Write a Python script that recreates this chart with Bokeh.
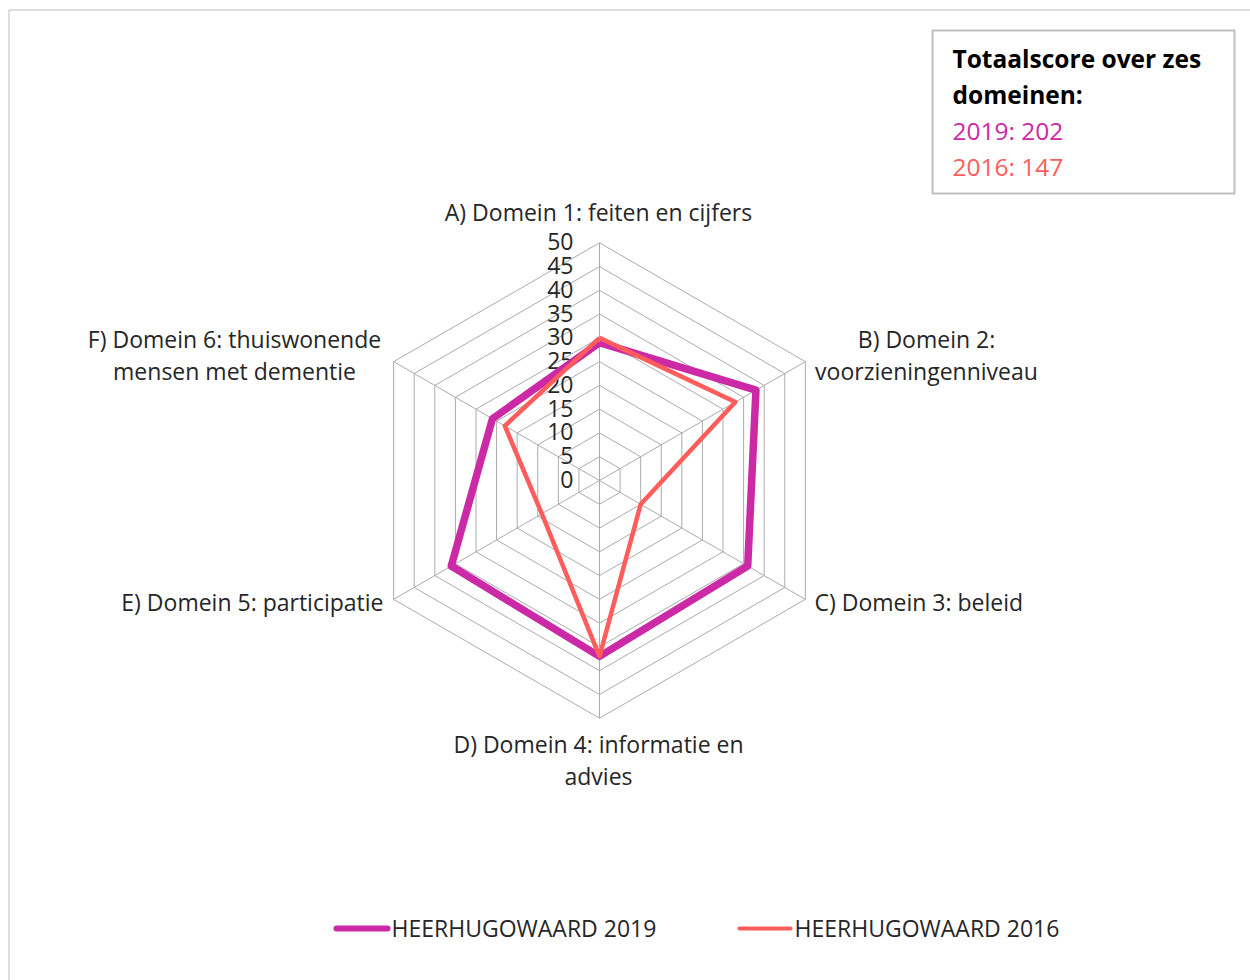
import numpy as np
from bokeh.plotting import figure
from bokeh.models import Range1d
from bokeh.core.properties import value
from bokeh.embed import file_html
from bokeh.resources import INLINE

# ---- data ----
categories = ["A) Domein 1: feiten en cijfers",
              "B) Domein 2:\nvoorzieningenniveau",
              "C) Domein 3: beleid",
              "D) Domein 4: informatie en\nadvies",
              "E) Domein 5: participatie",
              "F) Domein 6: thuiswonende\nmensen met dementie"]
series_names = ["HEERHUGOWAARD 2019", "HEERHUGOWAARD 2016"]
values_2019 = [29, 38, 36, 37, 36, 26]
values_2016 = [30, 33, 10, 37, 14, 23]
tick_values = [0, 5, 10, 15, 20, 25, 30, 35, 40, 45, 50]
box_title = ["Totaalscore over zes", "domeinen:"]
box_lines = ["2019: 202", "2016: 147"]

C19 = "#CC29A6"
C16 = "#FF5D5B"
GRID = "#ABABAB"
FONT = value("Open Sans")
FS = "23px"

W, H = 1250, 980
p = figure(width=W, height=H, output_backend="svg", toolbar_location=None,
           x_range=Range1d(0, W), y_range=Range1d(0, H), min_border=0,
           outline_line_color=None)
p.axis.visible = False
p.grid.visible = False

def P(px, py):
    return px, H - py

cx, cy = P(599, 480)
R = 237.7
vmax = 50.0
angles = np.deg2rad([90, 30, -30, -90, 210, 150])

def pt(v, i):
    r = R * v / vmax
    return cx + r * np.cos(angles[i]), cy + r * np.sin(angles[i])

# chart-area border (top and left visible)
bx0, by0 = P(8.5, 9.5)
p.segment(x0=[bx0, bx0], y0=[by0, by0], x1=[bx0, W], y1=[0, by0],
          line_color="#BDBDBD", line_width=1)

# grid hexagons
for t in tick_values[1:]:
    xs = [pt(t, i)[0] for i in range(6)] + [pt(t, 0)[0]]
    ys = [pt(t, i)[1] for i in range(6)] + [pt(t, 0)[1]]
    p.line(xs, ys, line_color=GRID, line_width=1)
# spokes
p.segment(x0=[cx] * 6, y0=[cy] * 6,
          x1=[pt(vmax, i)[0] for i in range(6)],
          y1=[pt(vmax, i)[1] for i in range(6)],
          line_color=GRID, line_width=1)

# tick labels
tx = P(573, 0)[0]
p.text(x=[tx] * len(tick_values), y=[cy + R * t / vmax + 1 for t in tick_values],
       text=[str(t) for t in tick_values], text_font=FONT, text_font_size=FS,
       text_align="right", text_baseline="middle", text_color="#262626")

# series
for vals, col, lw in [(values_2019, C19, 7.5), (values_2016, C16, 4.5)]:
    xs = [pt(v, i)[0] for i, v in enumerate(vals)]
    ys = [pt(v, i)[1] for i, v in enumerate(vals)]
    xs.append(xs[0]); ys.append(ys[0])
    p.line(xs, ys, line_color=col, line_width=lw, line_join="round")

# category labels (first line position; extra lines 32px below)
lab_pos = [(598, 211, "center"), (926, 338, "center"), (814, 601, "left"),
           (598, 743, "center"), (383, 601, "right"), (234, 338, "center")]
for txt, (lx, ly, al) in zip(categories, lab_pos):
    for k, line in enumerate(txt.split("\n")):
        x, y = P(lx, ly + 32.5 * k)
        p.text(x=[x], y=[y], text=[line], text_font=FONT, text_font_size=FS,
               text_align=al, text_baseline="middle", text_color="#262626")

# legend
for name, col, lw, (x0, x1, tx0) in [(series_names[0], C19, 6, (336, 387, 391)),
                                    (series_names[1], C16, 4, (739, 790, 794))]:
    a, b = P(x0, 928)
    c, _ = P(x1, 928)
    p.line([a, c], [b, b], line_color=col, line_width=lw, line_cap="round")
    tx1, ty1 = P(tx0, 927)
    p.text(x=[tx1], y=[ty1], text=[name], text_font=FONT, text_font_size=FS,
           text_align="left", text_baseline="middle", text_color="#262626")

# text box
x0, y0 = P(932, 30)
x1, y1 = P(1234, 193)
p.quad(left=[x0], right=[x1], top=[y0], bottom=[y1], fill_color="white",
       line_color="#BFBFBF", line_width=2)
for k, t in enumerate(box_title):
    x, y = P(952, 58 + 36 * k)
    p.text(x=[x], y=[y], text=[t], text_font=FONT, text_font_size="24.5px",
           text_font_style="bold", text_align="left", text_baseline="middle",
           text_color="black")
for k, (t, col) in enumerate(zip(box_lines, [C19, C16])):
    x, y = P(952, 130 + 36 * k)
    p.text(x=[x], y=[y], text=[t], text_font=FONT, text_font_size="24.5px",
           text_align="left", text_baseline="middle", text_color=col)

open("out.html", "w").write(file_html(p, INLINE))
